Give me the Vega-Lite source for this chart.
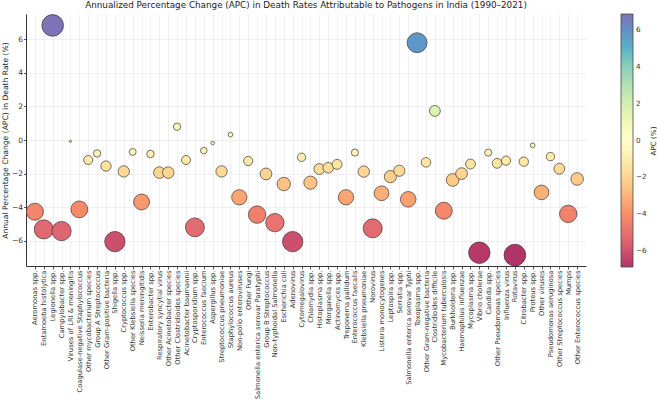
{
  "$schema": "https://vega.github.io/schema/vega-lite/v6.json",
  "width": 560,
  "height": 252,
  "autosize": {"type": "none"},
  "padding": {"left": 26, "top": 14, "right": 71, "bottom": 136},
  "title": {
    "text": "Annualized Percentage Change (APC) in Death Rates Attributable to Pathogens in India (1990–2021)",
    "fontSize": 8.8, "fontWeight": "normal", "color": "#222", "offset": 3, "anchor": "middle", "font": "DejaVu Sans"
  },
  "data": {"values": [
    {"pathogen": "Aeromonas spp.", "apc": -4.27},
    {"pathogen": "Entamoeba histolytica", "apc": -5.32},
    {"pathogen": "Legionella spp.", "apc": 6.82},
    {"pathogen": "Campylobacter spp.", "apc": -5.42},
    {"pathogen": "Viruses of LRI & meningitis", "apc": -0.08},
    {"pathogen": "Coagulase-negative Staphylococcus", "apc": -4.13},
    {"pathogen": "Other mycobacterium species", "apc": -1.19},
    {"pathogen": "Group A Streptococcus", "apc": -0.8},
    {"pathogen": "Other Gram-positive bacteria", "apc": -1.55},
    {"pathogen": "Shigella spp.", "apc": -6.05},
    {"pathogen": "Cryptococcus spp.", "apc": -1.87},
    {"pathogen": "Other Klebsiella species", "apc": -0.71},
    {"pathogen": "Neisseria meningitidis", "apc": -3.69},
    {"pathogen": "Enterobacter spp.", "apc": -0.83},
    {"pathogen": "Respiratory syncytial virus", "apc": -1.94},
    {"pathogen": "Other Acinetobacter species", "apc": -1.94},
    {"pathogen": "Other Clostridioides species", "apc": 0.79},
    {"pathogen": "Acinetobacter baumannii", "apc": -1.19},
    {"pathogen": "Cryptosporidium spp.", "apc": -5.2},
    {"pathogen": "Enterococcus faecium", "apc": -0.63},
    {"pathogen": "Aspergillus spp.", "apc": -0.18},
    {"pathogen": "Streptococcus pneumoniae", "apc": -1.87},
    {"pathogen": "Staphylococcus aureus", "apc": 0.32},
    {"pathogen": "Non-polio enteroviruses", "apc": -3.41},
    {"pathogen": "Other Fungi", "apc": -1.25},
    {"pathogen": "Salmonella enterica serovar Paratyphi", "apc": -4.44},
    {"pathogen": "Group B Streptococcus", "apc": -2.02},
    {"pathogen": "Non-typhoidal Salmonella", "apc": -4.92},
    {"pathogen": "Escherichia coli", "apc": -2.62},
    {"pathogen": "Adenovirus", "apc": -6.05},
    {"pathogen": "Cytomegalovirus", "apc": -1.03},
    {"pathogen": "Chlamydia spp.", "apc": -2.54},
    {"pathogen": "Histoplasma spp.", "apc": -1.73},
    {"pathogen": "Morganella spp.", "apc": -1.65},
    {"pathogen": "Actinomyces spp.", "apc": -1.45},
    {"pathogen": "Treponema pallidum", "apc": -3.41},
    {"pathogen": "Enterococcus faecalis", "apc": -0.75},
    {"pathogen": "Klebsiella pneumoniae", "apc": -1.88},
    {"pathogen": "Norovirus", "apc": -5.26},
    {"pathogen": "Listeria monocytogenes", "apc": -3.17},
    {"pathogen": "Leptospira spp.", "apc": -2.18},
    {"pathogen": "Serratia spp.", "apc": -1.83},
    {"pathogen": "Salmonella enterica serovar Typhi", "apc": -3.53},
    {"pathogen": "Toxoplasma spp.", "apc": 5.79},
    {"pathogen": "Other Gram-negative bacteria", "apc": -1.33},
    {"pathogen": "Clostridioides difficile", "apc": 1.73},
    {"pathogen": "Mycobacterium tuberculosis", "apc": -4.21},
    {"pathogen": "Burkholderia spp.", "apc": -2.38},
    {"pathogen": "Haemophilus influenzae", "apc": -2.0},
    {"pathogen": "Mycoplasma spp.", "apc": -1.43},
    {"pathogen": "Vibrio cholerae", "apc": -6.71},
    {"pathogen": "Candida spp.", "apc": -0.75},
    {"pathogen": "Other Pseudomonas species", "apc": -1.39},
    {"pathogen": "Influenza virus", "apc": -1.23},
    {"pathogen": "Rotavirus", "apc": -6.85},
    {"pathogen": "Citrobacter spp.", "apc": -1.29},
    {"pathogen": "Proteus spp.", "apc": -0.32},
    {"pathogen": "Other viruses", "apc": -3.12},
    {"pathogen": "Pseudomonas aeruginosa", "apc": -0.99},
    {"pathogen": "Other Streptococcus species", "apc": -1.71},
    {"pathogen": "Mumps", "apc": -4.4},
    {"pathogen": "Other Enterococcus species", "apc": -2.32}
  ]},
  "transform": [{"calculate": "abs(datum.apc)", "as": "mag"}],
  "mark": {"type": "circle", "stroke": "#333333", "strokeWidth": 0.8, "opacity": 1, "strokeOpacity": 0.85},
  "encoding": {
    "x": {
      "field": "pathogen", "type": "nominal", "sort": null,
      "scale": {"type": "point", "padding": 3.05},
      "axis": {"title": null, "labelAngle": 270, "labelFontSize": 6.75, "labelColor": "#333", "tickSize": 3, "labelPadding": 1, "grid": true, "gridColor": "#ebebeb", "gridWidth": 0.8, "domainColor": "#333", "tickColor": "#555", "labelLimit": 200}
    },
    "y": {
      "field": "apc", "type": "quantitative",
      "scale": {"domain": [-7.5, 7.5], "nice": false, "zero": false},
      "axis": {"values": [-6, -4, -2, 0, 2, 4, 6], "title": "Annual Percentage Change (APC) in Death Rate (%)", "titleFontSize": 7.6, "titleFontWeight": "normal", "titleColor": "#222", "titlePadding": 2, "labelFontSize": 7.5, "labelColor": "#333", "tickSize": 2.5, "labelPadding": 1, "grid": true, "gridColor": "#ebebeb", "gridWidth": 0.8, "domainColor": "#333", "tickColor": "#555"}
    },
    "color": {
      "field": "apc", "type": "quantitative",
      "scale": {
        "domain": [-6.85, -5.48, -4.11, -2.74, -1.37, 0, 1.37, 2.74, 4.11, 5.48, 6.85],
        "range": ["#b13468", "#dd6572", "#f68a69", "#fdbe81", "#fee6a2", "#ffffcc", "#ebf7ad", "#bce4b6", "#85ceb7", "#5ba0ca", "#7e72b5"]
      },
      "legend": {
        "title": "APC (%)", "titleOrient": "right", "titleAnchor": "middle",
        "gradientLength": 253, "gradientThickness": 12, "values": [-6, -4, -2, 0, 2, 4, 6],
        "offset": 35, "labelFontSize": 7.2, "labelColor": "#333", "titleFontSize": 7.2, "titleFontWeight": "normal", "titleColor": "#222",
        "gradientStrokeColor": "#444", "gradientStrokeWidth": 0.8, "titlePadding": 3, "labelOffset": 3,
        "encoding": {"title": {"angle": {"value": 270}, "baseline": {"value": "top"}, "align": {"value": "center"}}}
      }
    },
    "size": {"field": "mag", "type": "quantitative", "scale": {"domain": [0, 6.85], "range": [0, 470], "zero": true}, "legend": null}
  },
  "config": {
    "view": {"stroke": null},
    "font": "DejaVu Sans",
    "legend": {"padding": 0}
  }
}
